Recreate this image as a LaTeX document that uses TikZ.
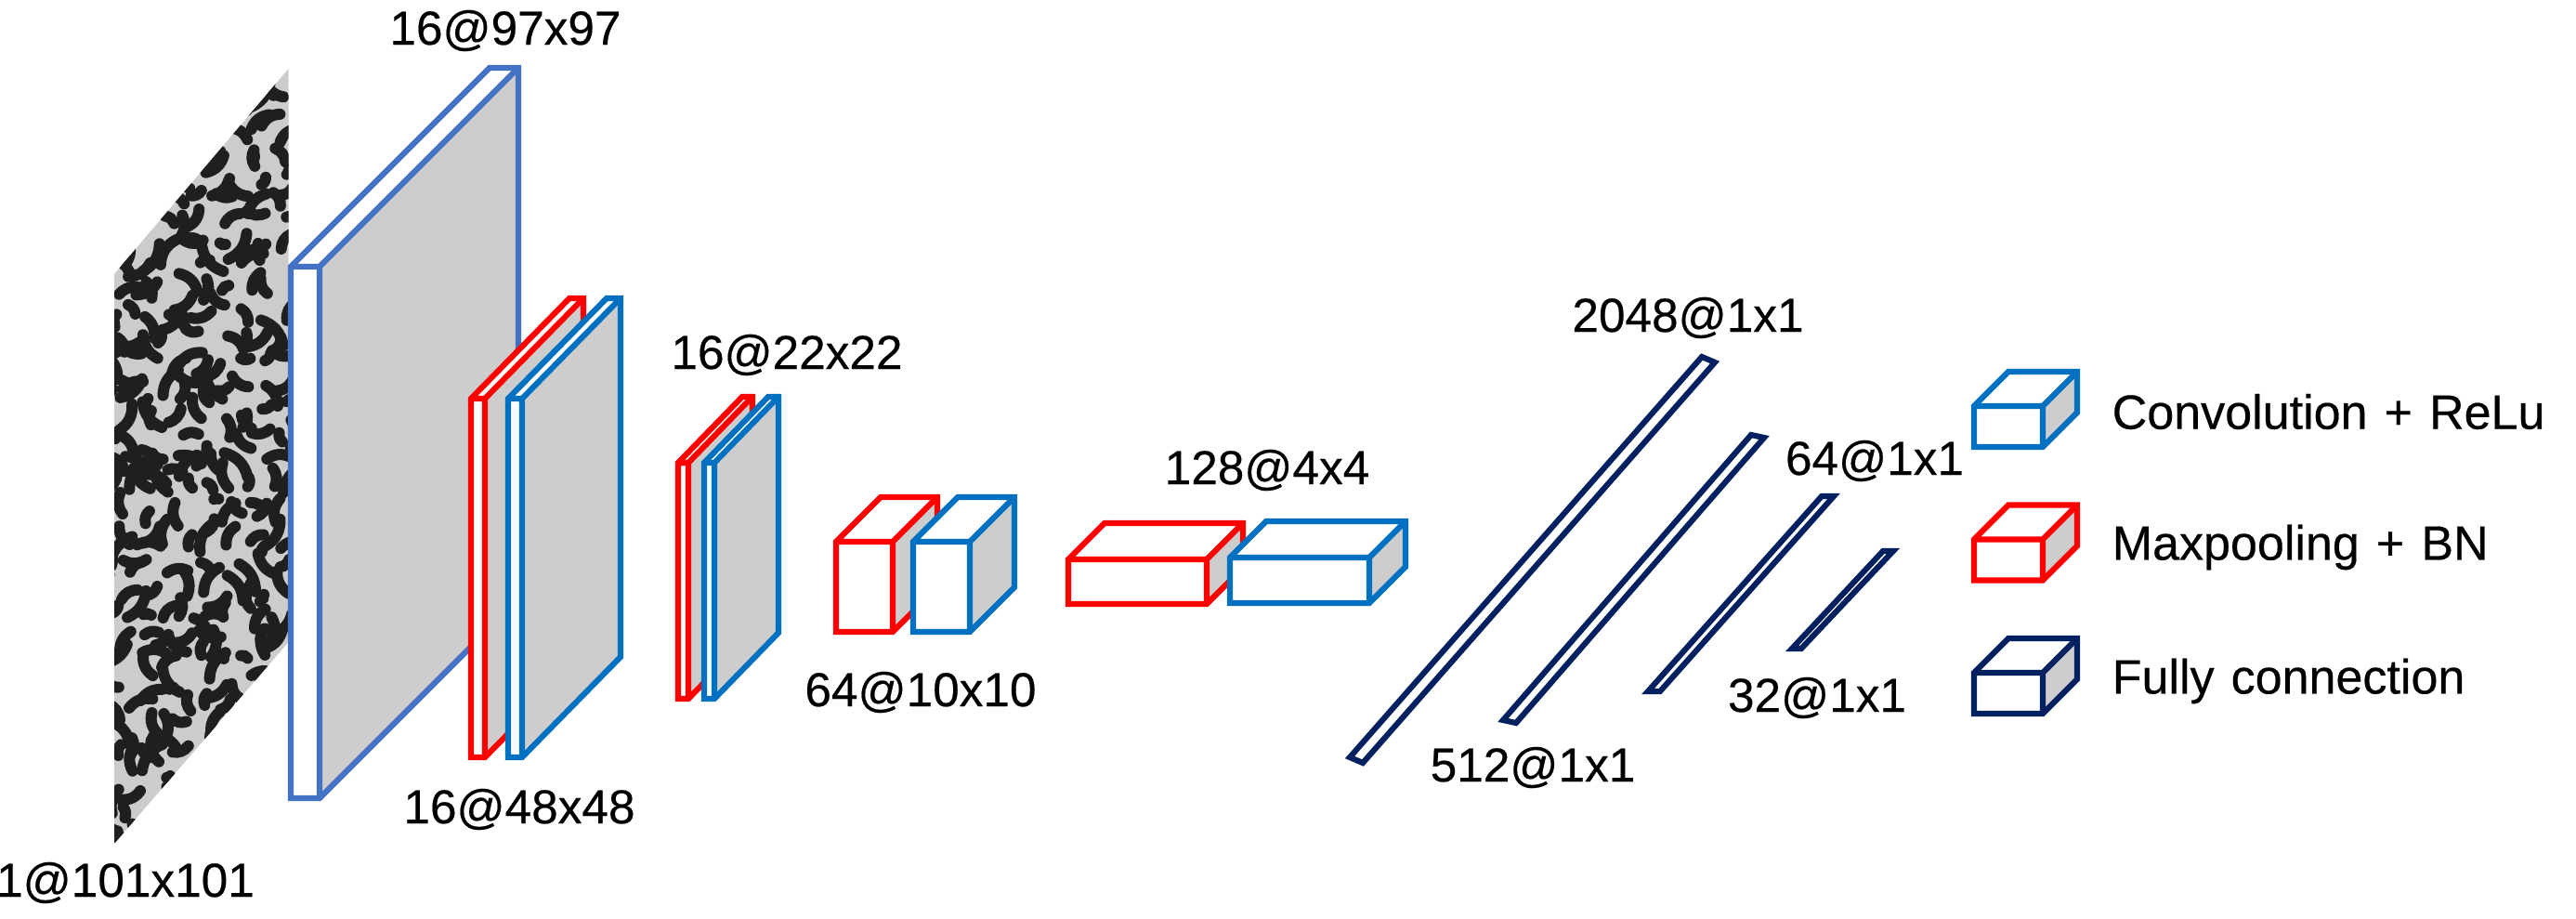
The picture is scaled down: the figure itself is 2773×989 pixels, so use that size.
\documentclass[tikz,border=0pt]{standalone}
\usepackage{fontspec}
\setmainfont[FakeBold=0.4]{Liberation Sans}
\newfontfamily\legendfont[WordSpace=1.25, FakeBold=0.4]{Liberation Sans}

\definecolor{inputblue}{HTML}{4472C4}
\definecolor{convblue}{HTML}{0070C0}
\definecolor{poolred}{HTML}{FF0000}
\definecolor{fcnavy}{HTML}{002060}
\definecolor{sidegray}{HTML}{CDCDCD}

% colour, left, right, top, bottom, dx, dy
\newcommand{\cuboid}[7]{
	\fill[white] (#2,#4) -- ++(#6,-#7) -- ++({(#3)-(#2)},0) -- (#3,#4) -- (#3,#5) -- (#2,#5) -- cycle;
	\fill[sidegray] (#3,#4) -- ++(#6,-#7) -- ++(0,{(#5)-(#4)}) -- (#3,#5) -- cycle;
	\draw[layer, draw=#1] (#2,#4) -- ++(#6,-#7) -- ++({(#3)-(#2)},0) -- ++(0,{(#5)-(#4)}) -- (#3,#5) -- (#2,#5) -- cycle;
	\draw[layer, draw=#1] (#2,#4) -- (#3,#4) -- (#3,#5) (#3,#4) -- ++(#6,-#7);
}

\begin{document}
\begin{tikzpicture} [x=0.01cm, y=-0.01cm,
	layer/.style={line width=1.75pt, line join=miter},
	speck/.style={black!88, line width=1.2mm, line cap=round},
	sizelabel/.style={font=\fontsize{14.6}{17}\selectfont, inner sep=0pt},
	legendlabel/.style={inner sep=0pt, anchor=west, font=\legendfont\fontsize{14.8}{17}\selectfont}]
	\useasboundingbox (0,0) rectangle (2773,989);
	
	% input image
	\begin{scope}
		\clip (123,295) -- (310.5,74) -- (310.5,691) -- (123,908) -- cycle;
		\fill[black!20] (100,60) rectangle (320,920);
		\pgfmathsetseed{11}
		\foreach \i in {0,...,9}{
			\foreach \j in {0,...,34}{
				\pgfmathsetmacro{\px}{112+\i*22+rand*9}
				\pgfmathsetmacro{\py}{60+\j*25+rand*10}
				\pgfmathsetmacro{\qx}{\px+rand*26}
				\pgfmathsetmacro{\qy}{\py+rand*30}
				\draw[speck] (\px,\py) to[bend left=30] (\qx,\qy);
			}
		}
	\end{scope}
	
	% conv and pool blocks
	\cuboid{inputblue}{313}{344}{287}{859}{214}{214}
	\cuboid{poolred}{507}{522}{429}{815}{106}{108}
	\cuboid{convblue}{547}{562}{429}{815}{106}{108}
	\cuboid{poolred}{730}{741}{498}{752}{69}{71}
	\cuboid{convblue}{758}{769}{498}{752}{69}{71}
	\cuboid{poolred}{900}{961}{583}{680}{48}{48}
	\cuboid{convblue}{983}{1044}{583}{680}{48}{48}
	\cuboid{poolred}{1150}{1299}{602}{650}{39}{39}
	\cuboid{convblue}{1324}{1474}{600}{649}{39}{39}
	
	% fully connected bars
	\draw[layer, draw=fcnavy] (1832,384) -- (1846,390) -- (1467,821) -- (1453,815) -- cycle;
	\draw[layer, draw=fcnavy] (1885,468) -- (1899,471) -- (1632,778) -- (1618,775) -- cycle;
	\draw[layer, draw=fcnavy] (1961,534) -- (1974,534) -- (1787,744) -- (1774,744) -- cycle;
	\draw[layer, draw=fcnavy] (2027,593) -- (2038,593) -- (1939,698) -- (1929,698) -- cycle;
	
	% legend
	\foreach \col [count=\n from 0] in {convblue, poolred, fcnavy}{
		\cuboid{\col}{2125}{2199}{437+143.5*\n}{481+143.5*\n}{37}{37}
	}
	
	\node[sizelabel] (inputsize) at (135,950) {1@101x101};
	\node[sizelabel] (convsizea) at (544,33) {16@97x97};
	\node[sizelabel] (poolsizea) at (559,871) {16@48x48};
	\node[sizelabel] (poolsizeb) at (847,382) {16@22x22};
	\node[sizelabel] (poolsizec) at (991,745) {64@10x10};
	\node[sizelabel] (poolsized) at (1364,506) {128@4x4};
	\node[sizelabel] (fcsizea) at (1817,342) {2048@1x1};
	\node[sizelabel] (fcsizeb) at (1650,826) {512@1x1};
	\node[sizelabel] (fcsizec) at (2018,496) {64@1x1};
	\node[sizelabel] (fcsized) at (1956,751) {32@1x1};
	\node[legendlabel] (legendconv) at (2273,443) {Convolution + ReLu};
	\node[legendlabel] (legendpool) at (2273,589) {Maxpooling + BN};
	\node[legendlabel] (legendfc) at (2273,733) {Fully connection};
	
\end{tikzpicture}
\end{document}
